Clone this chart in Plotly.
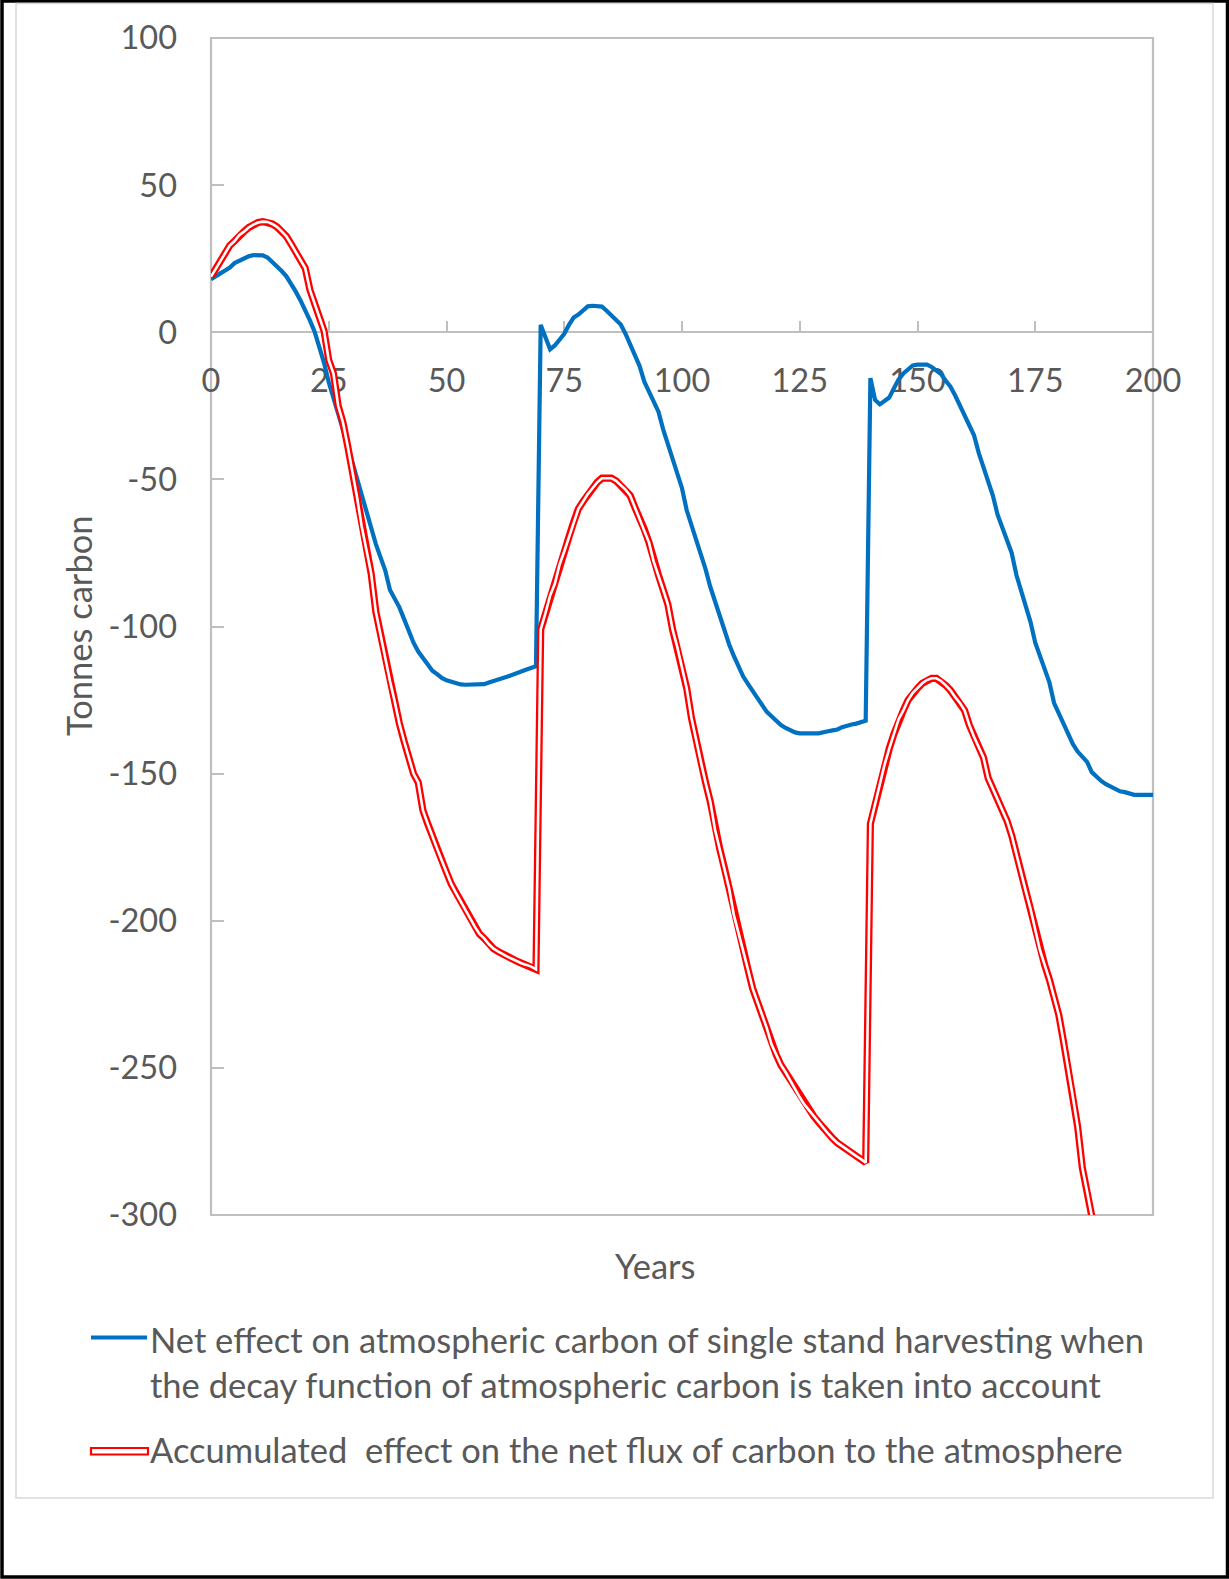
import plotly.graph_objects as go

# ---------------- data ----------------
years = list(range(0, 201))

net_effect = [
    18, 18.8, 20, 21, 22, 23.5, 24.3, 25, 25.8, 26.2,          # 0-9
    26.3, 26.1, 25.4, 24, 22.3, 20.8, 19, 16.5, 13.8, 10.8,    # 10-19
    7.6, 4, 0.2, -5, -10.4, -17, -22, -27.5, -33, -38.5,       # 20-29
    -44, -50, -55.5, -61, -67, -72, -76.5, -81, -87.6, -90.7,  # 30-39
    -93.5, -97.5, -101.5, -105.5, -108.5, -110.5, -113, -115, -116.2, -117.5,  # 40-49
    -118.3, -118.8, -119.3, -119.7, -119.8, -119.8, -119.8, -119.8, -119.6, -119,  # 50-59
    -118.6, -118.2, -117.5, -117, -116.5, -116, -115.2, -114.6, -114, -113.5,  # 60-69
    2.5, -1.5, -5.8, -4.5, -2.5, -0.5, 2.5, 5, 6, 7.2,         # 70-79
    8.8, 9, 9, 8.7, 7.3, 5.8, 4, 2.6, -0.5, -4,                # 80-89
    -7.5, -11.5, -16.8, -20, -23.5, -27, -33, -38, -42.5, -48, # 90-99
    -53, -60.5, -65.5, -70, -75.5, -80.5, -86.5, -91.5, -96, -102,  # 100-109
    -106, -110, -113.5, -117, -119.5, -122, -124.5, -127, -129, -130.5,  # 110-119
    -132, -133.5, -134.5, -135.3, -136, -136.3, -136.4, -136.4, -136.3, -136.3,  # 120-129
    -135.8, -135.6, -135.3, -135, -134.2, -133.6, -133.3, -133, -132.5, -132,  # 130-139
    -15.6, -23, -24.5, -23.5, -22.2, -19, -16, -14, -12.5, -11.3,  # 140-149
    -11, -11, -11, -11.8, -12.8, -14.2, -16.5, -18.5, -21.5, -25,  # 150-159
    -28.5, -31.5, -35, -41, -45.5, -50, -55.5, -62, -66.5, -71,    # 160-169
    -75, -82.5, -88, -93, -98.5, -105.5, -110, -114.5, -119, -126,  # 170-179
    -129.5, -133.5, -136.5, -140, -142.5, -144.5, -146, -149.5, -151.2, -152.5,  # 180-189
    -153.6, -154.5, -155.5, -156, -156.3, -156.7, -157.2, -157.2, -157.2, -157.2,  # 190-199
    -157.2,                                                     # 200
]

accumulated = [
    18.9, 21.5, 24.5, 27, 29.5, 31, 33, 34.2, 35.6, 36.6,      # 0-9
    37.3, 37.6, 37.5, 36.8, 35.8, 34.3, 32.6, 30, 27.3, 24.5,  # 10-19
    21.8, 14.4, 10, 5.5, 0.5, -9.5, -14, -25, -30.5, -38.5,    # 20-29
    -47, -56, -66, -74, -82, -95, -103, -110.5, -118.5, -125.5,  # 30-39
    -133, -139, -144.5, -150, -153, -162.5, -167, -171.5, -175.5, -179.5,  # 40-49
    -183.5, -187.5, -190.5, -193.5, -196.5, -199.5, -202, -204.5, -206, -208,  # 50-59
    -209.5, -210.5, -211.5, -212.3, -213, -213.8, -214.5, -215, -215.6, -216.5,  # 60-69
    -101, -95.5, -89.5, -85.5, -79, -74.5, -69.5, -64.5, -60, -57.5,  # 70-79
    -55, -53, -51, -49.6, -49.5, -49.6, -50.5, -52, -53.5, -55.5,    # 80-89
    -59.5, -63, -67, -71.5, -78, -82.5, -87.5, -92.5, -101, -107,    # 90-99
    -114, -121, -131, -139, -146, -153, -159.5, -169, -175.5, -182,  # 100-109
    -189, -198, -204, -210.5, -216.5, -223, -227.5, -231.5, -236.5, -242,  # 110-119
    -245.5, -249, -251.5, -254.5, -257.5, -260, -262.5, -264.5, -266.5, -268.5,  # 120-129
    -270.5, -272.3, -274, -275.5, -276.6, -277.8, -279, -280, -281, -282.2,  # 130-139
    -167, -160, -153.5, -147, -141.5, -136.5, -131.5, -128.5, -125, -122.5,  # 140-149
    -121, -119.3, -118.2, -117.6, -117.6, -118.5, -120, -121.7, -124, -126,  # 150-159
    -128.5, -133.5, -137.5, -141, -144.5, -151.5, -155, -158.5, -162, -166,  # 160-169
    -171, -177.5, -184.5, -190, -196, -203.5, -210, -215, -220, -226,        # 170-179
    -232, -241, -250, -260, -270, -284, -292, -301, -309, -317,              # 180-189
    -325,                                                                    # 190
]

x_ticks = [0, 25, 50, 75, 100, 125, 150, 175, 200]
y_ticks = [-300, -250, -200, -150, -100, -50, 0, 50, 100]
y_tick_labels = ["-300", "-250", "-200", "-150", "-100", "-50", "0", "50", "100"]

name_net = "Net effect on atmospheric carbon of single stand harvesting when"
name_net_2 = "the decay function of atmospheric carbon is taken into account"
name_acc = "Accumulated\u00a0 effect on the net flux of carbon to the atmosphere"
x_title = "Years"
y_title = "Tonnes carbon"

# ---------------- style ----------------
W, H = 1229, 1579
ML, MR, MT, MB = 211, 76, 38, 364
PW, PH = W - ML - MR, H - MT - MB
FONT = "Lato, Carlito, 'Open Sans', sans-serif"
TXT = "#595959"
AXIS = "#BFBFBF"
BLUE = "#0070C0"
RED = "#FF0000"
TEXT_SIZE = 34.5
TICK_SIZE = 32.5


def px(x):
    return (x - ML) / PW


def py(y):
    return (H - MB - y) / PH


fig = go.Figure()
fig.add_trace(go.Scatter(x=years[:len(net_effect)], y=net_effect, mode="lines",
                         line=dict(color=BLUE, width=4.2), showlegend=False,
                         name=name_net + " " + name_net_2))
fig.add_trace(go.Scatter(x=years[:len(accumulated)], y=accumulated, mode="lines",
                         line=dict(color=RED, width=7.2), showlegend=False,
                         name=name_acc))
fig.add_trace(go.Scatter(x=years[:len(accumulated)], y=accumulated, mode="lines",
                         line=dict(color="white", width=2.6), showlegend=False,
                         hoverinfo="skip"))

shapes = []
# outer black frame
shapes.append(dict(type="rect", xref="paper", yref="paper",
                   x0=px(2), x1=px(W - 1.5), y0=py(1), y1=py(H - 2),
                   line=dict(color="black", width=3.5), layer="below"))
# chart area light border
shapes.append(dict(type="rect", xref="paper", yref="paper",
                   x0=px(16), x1=px(1213), y0=py(3.5), y1=py(1498),
                   line=dict(color="#D9D9D9", width=1.5), layer="below"))
# plot area frame
shapes.append(dict(type="rect", xref="paper", yref="paper",
                   x0=0, x1=1, y0=0, y1=1,
                   line=dict(color=AXIS, width=2.2), layer="below"))
# legend symbols
shapes.append(dict(type="line", xref="paper", yref="paper",
                   x0=px(91), x1=px(147), y0=py(1337.5), y1=py(1337.5),
                   line=dict(color=BLUE, width=4.2)))
shapes.append(dict(type="rect", xref="paper", yref="paper",
                   x0=px(91), x1=px(148), y0=py(1448), y1=py(1454.5),
                   line=dict(color=RED, width=2.2), fillcolor="white"))

annotations = [
    dict(text=name_net, x=px(148), y=py(1339), xref="paper", yref="paper",
         xanchor="left", yanchor="middle", showarrow=False,
         font=dict(family=FONT, size=TEXT_SIZE, color=TXT)),
    dict(text=name_net_2, x=px(148), y=py(1384), xref="paper", yref="paper",
         xanchor="left", yanchor="middle", showarrow=False,
         font=dict(family=FONT, size=TEXT_SIZE, color=TXT)),
    dict(text=name_acc, x=px(148), y=py(1449), xref="paper", yref="paper",
         xanchor="left", yanchor="middle", showarrow=False,
         font=dict(family=FONT, size=TEXT_SIZE, color=TXT)),
    dict(text=x_title, x=px(655), y=py(1265), xref="paper", yref="paper",
         xanchor="center", yanchor="middle", showarrow=False,
         font=dict(family=FONT, size=TEXT_SIZE, color=TXT)),
    dict(text=y_title, x=px(78), y=py(626), xref="paper", yref="paper",
         xanchor="center", yanchor="middle", showarrow=False, textangle=-90,
         font=dict(family=FONT, size=TEXT_SIZE, color=TXT)),
]

fig.update_layout(
    width=W, height=H,
    margin=dict(l=ML, r=MR, t=MT, b=MB, pad=0),
    paper_bgcolor="white", plot_bgcolor="white",
    showlegend=False,
    shapes=shapes, annotations=annotations,
    font=dict(family=FONT, size=TEXT_SIZE, color=TXT),
    xaxis=dict(range=[0, 200], tickvals=x_ticks, anchor="free",
               position=(0 - (-300)) / (100 - (-300)),
               showline=True, linecolor=AXIS, linewidth=2.2,
               ticks="inside", ticklen=10, tickwidth=2.2, tickcolor=AXIS,
               ticklabelstandoff=20,
               showgrid=False, zeroline=False, layer="below traces",
               tickfont=dict(family=FONT, size=TICK_SIZE, color=TXT)),
    yaxis=dict(range=[-300, 100], tickvals=y_ticks, ticktext=y_tick_labels,
               showline=False, ticks="inside", ticklen=13, tickwidth=2.2,
               tickcolor=AXIS, ticklabelstandoff=33,
               showgrid=False, zeroline=False, layer="below traces",
               tickfont=dict(family=FONT, size=TICK_SIZE, color=TXT)),
)

fig.write_html(
    "out.html",
    config={"displayModeBar": False},
    post_script="document.body.style.margin='0';document.body.style.overflow='hidden';",
)
